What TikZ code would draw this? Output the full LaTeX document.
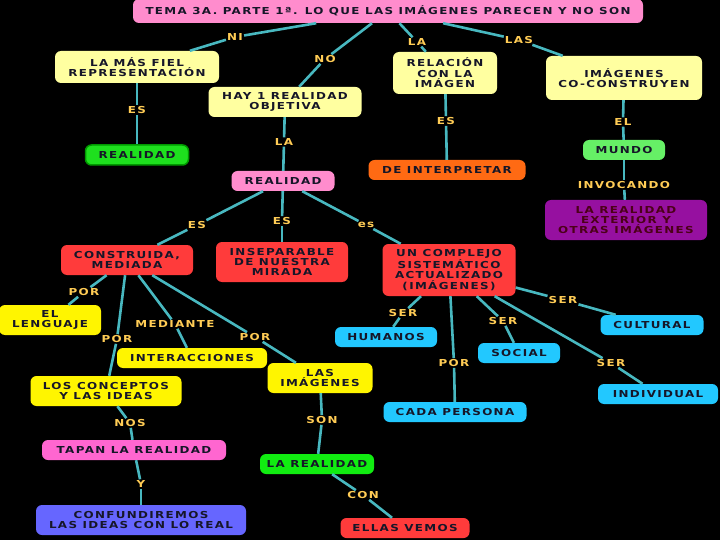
\documentclass[tikz,border=0pt]{standalone}
\usepackage{fontspec}
\usepackage{tikz}
\newfontfamily\mapfont[FakeStretch=1.24, LetterSpace=14]{DejaVu Sans}

\definecolor{linecol}{RGB}{72,184,192}
\definecolor{lblcol}{RGB}{255,204,85}
\definecolor{boxtext}{RGB}{22,22,40}
\definecolor{pinkA}{RGB}{255,140,205}
\definecolor{paleyel}{RGB}{255,255,160}
\definecolor{yel}{RGB}{255,245,0}
\definecolor{greenA}{RGB}{30,224,30}
\definecolor{greenB}{RGB}{102,240,102}
\definecolor{greenC}{RGB}{17,236,17}
\definecolor{orangeA}{RGB}{255,106,19}
\definecolor{purpleA}{RGB}{150,16,160}
\definecolor{redA}{RGB}{255,59,59}
\definecolor{magA}{RGB}{255,102,208}
\definecolor{blueA}{RGB}{102,102,255}
\definecolor{cyanA}{RGB}{34,200,255}

\begin{document}
\begin{tikzpicture}[x=1pt,y=-1pt,
  box/.style={rounded corners=6pt, align=center, text=boxtext, inner xsep=3pt, inner ysep=4pt,
    font=\fontsize{9.6}{10.4}\selectfont\mapfont\bfseries},
  lbl/.style={fill=black, text=lblcol, inner sep=1pt,
    font=\fontsize{9.6}{10.4}\selectfont\mapfont\bfseries},
  conn/.style={draw=linecol, line width=2.6pt}]

  \fill[black] (0,0) rectangle (720,540);
  \useasboundingbox (0,0) rectangle (720,540);

  % boxes
  \node[box, fill=pinkA, minimum width=510pt, minimum height=24pt] (title) at (388,11) {TEMA 3A. PARTE 1ª. LO QUE LAS IMÁGENES PARECEN Y NO SON};
  \node[box, fill=paleyel, minimum width=164pt, minimum height=32pt] (fiel) at (137,67) {LA MÁS FIEL\\REPRESENTACIÓN};
  \node[box, fill=paleyel, minimum width=153pt, minimum height=30pt] (hay) at (285,102) {HAY 1 REALIDAD\\OBJETIVA};
  \node[box, fill=paleyel, minimum width=104pt, minimum height=42pt] (relacion) at (445,73) {RELACIÓN\\CON LA\\IMÁGEN};
  \node[box, fill=paleyel, minimum width=156pt, minimum height=44pt] (coconst) at (624,78) {IMÁGENES\\CO-CONSTRUYEN};
  \node[box, fill=greenA, draw=green!60!black, line width=1.5pt, minimum width=103pt, minimum height=20pt] (realA) at (137,155) {REALIDAD};
  \node[box, fill=pinkA, minimum width=103pt, minimum height=20pt] (realB) at (283,181) {REALIDAD};
  \node[box, fill=orangeA, minimum width=157pt, minimum height=20pt] (interp) at (447,170) {DE INTERPRETAR};
  \node[box, fill=greenB, minimum width=82pt, minimum height=20pt] (mundo) at (624,150) {MUNDO};
  \node[box, fill=purpleA, text=purple!40!black, minimum width=162pt, minimum height=40pt] (exterior) at (626,220) {LA REALIDAD\\EXTERIOR Y\\OTRAS IMÁGENES};
  \node[box, fill=redA, minimum width=132pt, minimum height=30pt] (construida) at (127,260) {CONSTRUIDA,\\MEDIADA};
  \node[box, fill=redA, minimum width=132pt, minimum height=40pt] (insep) at (282,262) {INSEPARABLE\\DE NUESTRA\\MIRADA};
  \node[box, fill=redA, minimum width=133pt, minimum height=52pt] (complejo) at (449,270) {UN COMPLEJO\\SISTEMÁTICO\\ACTUALIZADO\\(IMÁGENES)};
  \node[box, fill=yel, minimum width=102pt, minimum height=30pt] (lenguaje) at (50,320) {EL\\LENGUAJE};
  \node[box, fill=yel, minimum width=150pt, minimum height=20pt] (interacc) at (192,358) {INTERACCIONES};
  \node[box, fill=yel, minimum width=151pt, minimum height=30pt] (conceptos) at (106,391) {LOS CONCEPTOS\\Y LAS IDEAS};
  \node[box, fill=yel, minimum width=105pt, minimum height=30pt] (lasimg) at (320,378) {LAS\\IMÁGENES};
  \node[box, fill=magA, minimum width=184pt, minimum height=20pt] (tapan) at (134,450) {TAPAN LA REALIDAD};
  \node[box, fill=blueA, minimum width=210pt, minimum height=30pt] (confund) at (141,520) {CONFUNDIREMOS\\LAS IDEAS CON LO REAL};
  \node[box, fill=greenC, minimum width=114pt, minimum height=20pt] (realC) at (317,464) {LA REALIDAD};
  \node[box, fill=redA, minimum width=129pt, minimum height=20pt] (ellas) at (405,528) {ELLAS VEMOS};
  \node[box, fill=cyanA, minimum width=102pt, minimum height=20pt] (humanos) at (386,337) {HUMANOS};
  \node[box, fill=cyanA, minimum width=82pt, minimum height=20pt] (social) at (519,353) {SOCIAL};
  \node[box, fill=cyanA, minimum width=103pt, minimum height=20pt] (cultural) at (652,325) {CULTURAL};
  \node[box, fill=cyanA, minimum width=143pt, minimum height=20pt] (cada) at (455,412) {CADA PERSONA};
  \node[box, fill=cyanA, minimum width=120pt, minimum height=20pt] (individual) at (658,394) {INDIVIDUAL};

  % linking words
  \node[lbl] (ni) at (235,37) {NI};
  \node[lbl] (no) at (325,59) {NO};
  \node[lbl] (laA) at (417,42) {LA};
  \node[lbl] (las) at (519,40) {LAS};
  \node[lbl] (esA) at (137,110) {ES};
  \node[lbl] (laB) at (284,142) {LA};
  \node[lbl] (esB) at (446,121) {ES};
  \node[lbl] (el) at (623,122) {EL};
  \node[lbl] (invocando) at (624,185) {INVOCANDO};
  \node[lbl] (esC) at (197,225) {ES};
  \node[lbl] (esD) at (282,221) {ES};
  \node[lbl] (esE) at (366,225) {es};
  \node[lbl] (porA) at (84,292) {POR};
  \node[lbl] (mediante) at (175,324) {MEDIANTE};
  \node[lbl] (porB) at (117,339) {POR};
  \node[lbl] (porC) at (255,337) {POR};
  \node[lbl] (serA) at (403,313) {SER};
  \node[lbl] (serB) at (503,321) {SER};
  \node[lbl] (serC) at (563,300) {SER};
  \node[lbl] (porD) at (454,363) {POR};
  \node[lbl] (serD) at (611,363) {SER};
  \node[lbl] (nos) at (130,423) {NOS};
  \node[lbl] (son) at (322,420) {SON};
  \node[lbl] (yy) at (141,484) {Y};
  \node[lbl] (con) at (363,495) {CON};

  \path[conn]
    (title) edge (ni) (ni) edge (fiel)
    (title) edge (no) (no) edge (hay)
    (title) edge (laA) (laA) edge (relacion)
    (title) edge (las) (las) edge (coconst)
    (fiel) edge (esA) (esA) edge (realA)
    (hay) edge (laB) (laB) edge (realB)
    (relacion) edge (esB) (esB) edge (interp)
    (coconst) edge (el) (el) edge (mundo)
    (mundo) edge (invocando) (invocando) edge (exterior)
    (realB) edge (esC) (esC) edge (construida)
    (realB) edge (esD) (esD) edge (insep)
    (realB) edge (esE) (esE) edge (complejo)
    (construida) edge (porA) (porA) edge (lenguaje)
    (construida) edge (mediante) (mediante) edge (interacc)
    (construida) edge (porB) (porB) edge (conceptos)
    (construida) edge (porC) (porC) edge (lasimg)
    (conceptos) edge (nos) (nos) edge (tapan)
    (tapan) edge (yy) (yy) edge (confund)
    (lasimg) edge (son) (son) edge (realC)
    (realC) edge (con) (con) edge (ellas)
    (complejo) edge (serA) (serA) edge (humanos)
    (complejo) edge (serB) (serB) edge (social)
    (complejo) edge (serC) (serC) edge (cultural)
    (complejo) edge (porD) (porD) edge (cada)
    (complejo) edge (serD) (serD) edge (individual);
\end{tikzpicture}
\end{document}
